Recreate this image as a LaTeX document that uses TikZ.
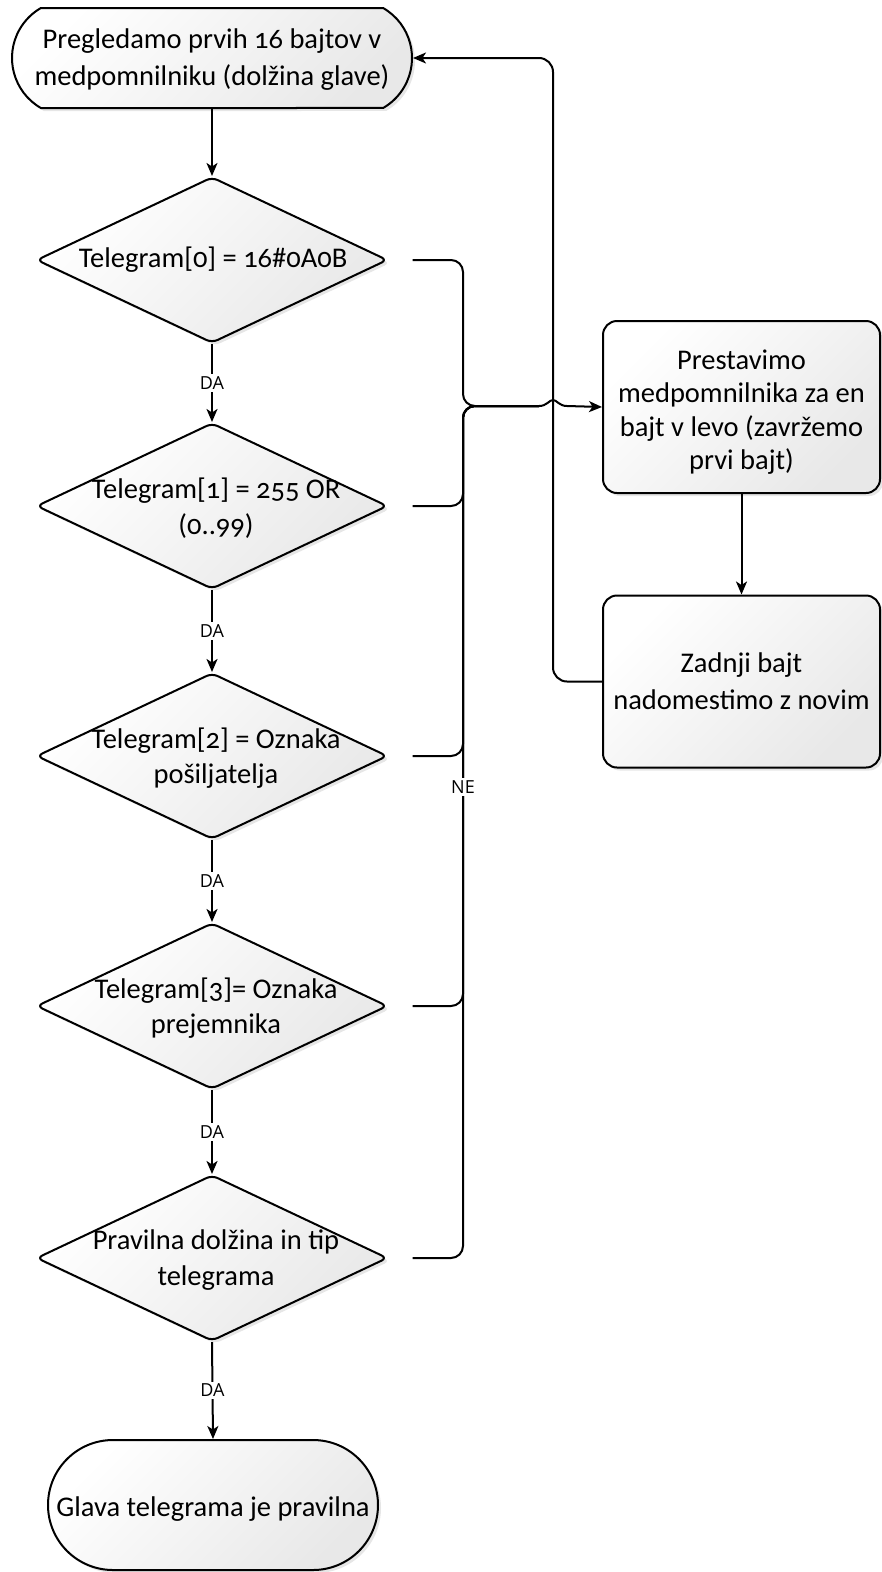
\documentclass[tikz,border=0pt]{standalone}
\usepackage{fontspec}
\setmainfont{Carlito}[Numbers=OldStyle]
\newfontfamily\labelfont{Open Sans}
\usetikzlibrary{shapes.geometric,shapes.misc,arrows.meta,shadows,calc}

\begin{document}
\begin{tikzpicture}[x=1pt,y=-1pt,
  line width=2pt,
  >={Stealth[length=13pt,width=11pt,inset=3.5pt]},
  fillshade/.style={draw=black, line width=2pt,
    top color=white, bottom color=black!9, shading angle=45,
    drop shadow={opacity=0.2, shadow xshift=3pt, shadow yshift=-3pt}},
  termshape/.style={fillshade, shape=rounded rectangle, inner sep=0pt},
  dia/.style={fillshade, shape=diamond, inner sep=0pt, rounded corners=6pt,
    minimum width=351pt, minimum height=166pt},
  boxnode/.style={fillshade, rectangle, rounded corners=14pt,
    minimum width=277pt, minimum height=172pt, inner sep=0pt},
  txt/.style={align=center, inner sep=0pt, font=\fontsize{28.5}{37}\selectfont},
  diatxt/.style={txt, font=\fontsize{28.5}{35.5}\selectfont},
  lbl/.style={fill=white, inner sep=2.5pt, font=\labelfont\fontsize{18}{18}\selectfont},
]
\useasboundingbox (0,0) rectangle (882,1572);

% routing points
\coordinate (bus) at (463,406);
\coordinate (hopL) at (539,406);
\coordinate (hopR) at (567,406);
\coordinate (ret) at (553,58);

% start terminator
\node[termshape, minimum width=400pt, minimum height=100pt,
      rounded rectangle arc length=120] (t1) at (212,58) {};
\node[txt] (t1t) at ($(t1)+(0,2)$) {Pregledamo prvih 16 bajtov v\\medpomnilniku (dolžina glave)};

% decisions
\node[dia] (d1) at (212,260) {};
\node[diatxt] (d1t) at ($(d1)+(1,0)$) {Telegram[0] = 16\#0A0B};
\node[dia] (d2) at (212,506) {};
\node[diatxt] (d2t) at ($(d2)+(4,2)$) {Telegram[1] = 255 OR\\(0..99)};
\node[dia] (d3) at (212,756) {};
\node[diatxt] (d3t) at ($(d3)+(4,2)$) {Telegram[2] = Oznaka\\pošiljatelja};
\node[dia] (d4) at (212,1006) {};
\node[diatxt] (d4t) at ($(d4)+(4,2)$) {Telegram[3]= Oznaka\\prejemnika};
\node[dia] (d5) at (212,1258) {};
\node[diatxt] (d5t) at ($(d5)+(4,2)$) {Pravilna dolžina in tip\\telegrama};

% end terminator
\node[termshape, minimum width=330pt, minimum height=130pt] (t2) at (213,1505) {};
\node[txt] (t2t) at ($(t2)+(0,4)$) {Glava telegrama je pravilna};

% buffer handling
\node[boxnode] (b1) at (741.5,407) {};
\node[txt, font=\fontsize{28.5}{33.5}\selectfont] (b1t) at ($(b1)+(0,5)$)
  {Prestavimo\\medpomnilnika za en\\bajt v levo (zavržemo\\prvi bajt)};
\node[boxnode] (b2) at (741.5,681.5) {};
\node[txt] (b2t) at (b2) {Zadnji bajt\\nadomestimo z novim};

% main flow
\draw[->] (t1.south) -- (d1.north);
\draw[->] (d1.south) -- node[lbl] (da1) {DA} (d2.north);
\draw[->] (d2.south) -- node[lbl] (da2) {DA} (d3.north);
\draw[->] (d3.south) -- node[lbl] (da3) {DA} (d4.north);
\draw[->] (d4.south) -- node[lbl] (da4) {DA} (d5.north);
\draw[->] (d5.south) -- node[lbl] (da5) {DA} (t2.north);

% NE branches joined into one bus
\draw[rounded corners=12pt, shorten <=24pt] (d1.east) -- (d1.east -| bus) -- (bus) -- (hopL);
\draw[rounded corners=12pt, shorten <=24pt] (d2.east) -- (d2.east -| bus) -- (bus) -- (hopL);
\draw[rounded corners=12pt, shorten <=24pt] (d3.east) -- (d3.east -| bus) -- (bus) -- (hopL);
\draw[rounded corners=12pt, shorten <=24pt] (d4.east) -- (d4.east -| bus) -- (bus) -- (hopL);
\draw[rounded corners=12pt, shorten <=24pt] (d5.east) -- (d5.east -| bus) -- (bus) -- (hopL);
\node[lbl] (ne) at (463,787) {NE};

% loop back to the start
\draw[->, rounded corners=14pt] (b2.west) -| (ret) -- (t1.east);
\draw[->] (b1.south) -- (b2.north);

% line hop over the return line, into the shift box
\draw[->] (hopL) .. controls (547,406) and (549,400) .. (553,400)
  .. controls (557,400) and (559,406) .. (hopR) -- (b1.west);
\end{tikzpicture}
\end{document}
